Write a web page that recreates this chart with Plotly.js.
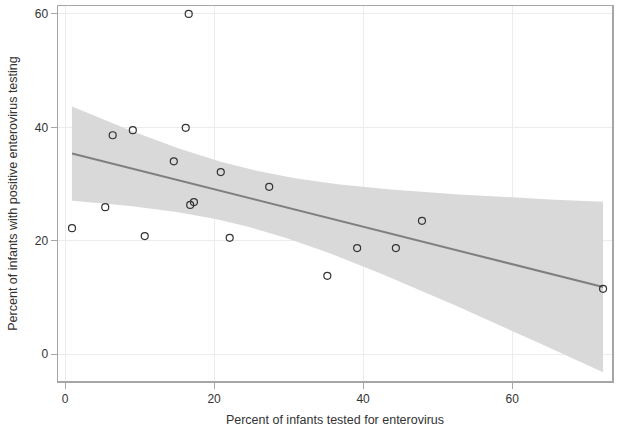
<!DOCTYPE html>
<html>
<head>
<meta charset="utf-8">
<script src="https://cdn.plot.ly/plotly-3.0.1.min.js"></script>
<style>html,body{margin:0;padding:0;background:#fff;}#chart{width:618px;height:428px;}</style>
</head>
<body>
<div id="chart"></div>
<script>
// Percent of infants tested for enterovirus (x) vs percent positive (y)
var pctTested = [0.94, 5.4, 6.4, 9.1, 10.7, 14.6, 16.2, 16.8, 17.3, 16.6, 20.9, 22.1, 27.4, 35.2, 39.2, 44.4, 47.9, 72.2];
var pctPositive = [22.2, 25.9, 38.6, 39.5, 20.8, 34.0, 39.9, 26.3, 26.8, 60.0, 32.1, 20.5, 29.5, 13.8, 18.7, 18.7, 23.5, 11.5];
var xTicks = [0, 20, 40, 60];
var yTicks = [0, 20, 40, 60];

// Ordinary least squares fit with 95% confidence band for the mean
var n = pctTested.length;
var mx = pctTested.reduce(function(a,b){return a+b;},0)/n;
var my = pctPositive.reduce(function(a,b){return a+b;},0)/n;
var sxx = 0, sxy = 0;
for (var i=0;i<n;i++){ sxx += (pctTested[i]-mx)*(pctTested[i]-mx); sxy += (pctTested[i]-mx)*(pctPositive[i]-my); }
var b1 = sxy/sxx, b0 = my - b1*mx;
var sse = 0;
for (var i=0;i<n;i++){ var r = pctPositive[i]-(b0+b1*pctTested[i]); sse += r*r; }
var s = Math.sqrt(sse/(n-2));
var tCrit = 2.1199; // t(0.975, df=16)
var xMin = Math.min.apply(null,pctTested), xMax = Math.max.apply(null,pctTested);
var gx=[], gFit=[], gLo=[], gHi=[];
for (var k=0;k<=100;k++){
  var x = xMin + (xMax-xMin)*k/100;
  var f = b0+b1*x;
  var se = s*Math.sqrt(1/n + (x-mx)*(x-mx)/sxx);
  gx.push(x); gFit.push(f); gLo.push(f-tCrit*se); gHi.push(f+tCrit*se);
}

var traces = [
  {x: gx, y: gLo, mode:'lines', line:{width:0, color:'rgba(0,0,0,0)'}, hoverinfo:'skip', showlegend:false},
  {x: gx, y: gHi, mode:'lines', fill:'tonexty', fillcolor:'#d9d9d9', line:{width:0, color:'rgba(0,0,0,0)'}, hoverinfo:'skip', showlegend:false},
  {x: gx, y: gFit, mode:'lines', line:{color:'#7f7f7f', width:2}, showlegend:false},
  {x: pctTested, y: pctPositive, mode:'markers', showlegend:false,
   marker:{symbol:'circle-open', size:7, color:'#333333', line:{width:1.2, color:'#333333'}}}
];

var axisCommon = {
  showline:true, linecolor:'#a6a6a6', linewidth:1.5, mirror:true,
  showgrid:true, gridcolor:'#ececec', gridwidth:1,
  zeroline:false, ticks:'outside', ticklen:6, tickcolor:'#a6a6a6',
  tickfont:{family:'Liberation Sans, Arial, sans-serif', size:12, color:'#333'}
};

var layout = {
  width:618, height:428,
  margin:{l:58, r:6, t:6, b:47},
  paper_bgcolor:'#fff', plot_bgcolor:'#fff',
  font:{family:'Liberation Sans, Arial, sans-serif', size:12, color:'#333'},
  xaxis: Object.assign({}, axisCommon, {
    range:[-0.94, 73.4], tickvals:xTicks, ticktext:xTicks.map(String),
    title:{text:'Percent of infants tested for enterovirus', font:{size:12.5, color:'#333'}, standoff:10}
  }),
  yaxis: Object.assign({}, axisCommon, {
    range:[-4.76, 61.4], tickvals:yTicks, ticktext:yTicks.map(String),
    title:{text:'Percent of infants with positive enterovirus testing', font:{size:12.5, color:'#333'}, standoff:14}
  })
};

Plotly.newPlot('chart', traces, layout, {displayModeBar:false, staticPlot:true});
</script>
</body>
</html>
